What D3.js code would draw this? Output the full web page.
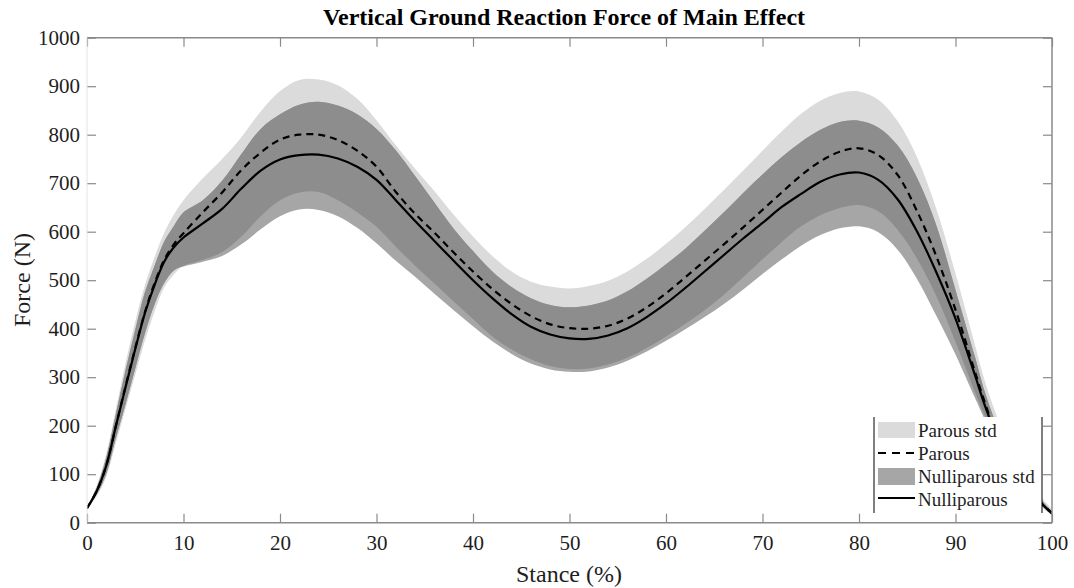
<!DOCTYPE html>
<html>
<head>
<meta charset="utf-8">
<script src="https://cdn.jsdelivr.net/npm/d3@7"></script>
<style>
  html, body { margin: 0; padding: 0; background: #fff; }
  svg { display: block; font-family: "Liberation Serif", "Times New Roman", serif; }
</style>
</head>
<body>
<svg id="chart" width="1074" height="588"></svg>
<script>
// ---- data ----
const stance = [0,1,2,3,4,5,6,7,8,9,10,
  12,14,16,18,20,22,24,26,28,30,
  32,34,36,38,40,42,44,46,48,50,
  52,54,56,58,60,62,64,66,68,70,
  72,74,76,78,80,82,84,86,88,90,
  92,93,94,95,96,97,98,99,100];

const nulliparous = [30,65,118,200,280,358,432,490,538,568,588,
  617,647,689,726,749,758,759,751,734,707,
  665,622,581,540,500,463,430,404,388,380,
  379,386,401,424,452,484,518,552,586,618,
  651,678,703,718,722,707,667,601,517,421,
  305,244,192,150,115,85,60,38,19];

const parous = [30,65,118,200,282,360,434,494,542,574,597,
  640,681,727,763,790,800,800,789,767,734,
  682,637,598,557,518,482,451,426,409,401,
  400,406,421,444,473,506,540,574,609,645,
  681,716,745,765,772,758,717,643,550,439,
  312,250,195,152,116,86,60,38,20];

const parousUpper = [32,76,142,235,330,415,490,548,598,635,665,
  710,750,795,848,890,913,914,902,874,830,
  778,730,684,635,590,550,518,497,487,483,
  488,499,518,544,575,609,647,686,726,767,
  807,843,870,886,889,872,828,754,648,514,
  368,295,235,185,140,105,75,50,28];

const parousLower = [28,54,95,165,235,305,375,435,485,512,530,
  542,558,590,632,665,681,682,665,640,610,
  569,530,493,456,420,384,357,337,323,317,
  318,326,340,360,384,410,438,470,506,543,
  579,611,634,649,655,642,604,545,468,373,
  270,222,175,140,110,82,58,36,18];

const nulliUpper = [31,72,135,225,315,398,475,530,580,612,640,
  665,705,760,812,842,862,868,860,842,812,
  768,715,660,606,560,518,486,463,449,444,
  448,458,477,503,533,565,602,640,680,718,
  754,785,810,826,829,815,778,712,614,480,
  343,272,215,170,130,97,68,44,23];

const nulliLower = [29,58,101,175,245,318,390,450,494,520,528,
  538,550,574,605,632,646,645,632,608,576,
  540,507,472,438,405,374,348,328,316,311,
  312,320,334,353,375,399,424,451,481,513,
  543,571,593,607,611,599,563,503,427,347,
  258,214,170,131,100,73,52,32,15];

const xTicks = [0,10,20,30,40,50,60,70,80,90,100];
const yTicks = [0,100,200,300,400,500,600,700,800,900,1000];

const legendLabels = ["Parous std","Parous","Nulliparous std","Nulliparous"];

// ---- drawing ----
const svg = d3.select("#chart");
const L = 87, R = 1052, T = 37.7, B = 522.7;
const x = d3.scaleLinear().domain([0,100]).range([L,R]);
const y = d3.scaleLinear().domain([0,1000]).range([B,T]);

const cLight = "#dbdbdb", cMed = "#a6a6a6", cDark = "#8d8d8d", cAxis = "#8a8a8a", cText = "#1e1e1e";

svg.append("defs").append("clipPath").attr("id","plotclip")
  .append("rect").attr("x",L).attr("y",T).attr("width",R-L).attr("height",B-T);

const rows = stance.map((s,i)=>({s, pu:parousUpper[i], pl:parousLower[i], nu:nulliUpper[i], nl:nulliLower[i], p:parous[i], n:nulliparous[i]}));

const g = svg.append("g").attr("clip-path","url(#plotclip)");
const curve = d3.curveCatmullRom.alpha(0.5);

g.append("path").datum(rows)
  .attr("d", d3.area().curve(curve).x(d=>x(d.s)).y0(d=>y(d.pl)).y1(d=>y(d.pu)))
  .attr("fill", cLight);
g.append("path").datum(rows)
  .attr("d", d3.area().curve(curve).x(d=>x(d.s)).y0(d=>y(d.nl)).y1(d=>y(d.nu)))
  .attr("fill", cMed);
g.append("path").datum(rows)
  .attr("d", d3.area().curve(curve).x(d=>x(d.s))
      .y0(d=>y(Math.max(d.pl,d.nl))).y1(d=>y(Math.min(d.pu,d.nu))))
  .attr("fill", cDark);

g.append("path").datum(rows)
  .attr("d", d3.line().curve(curve).x(d=>x(d.s)).y(d=>y(d.p)))
  .attr("fill","none").attr("stroke","#000").attr("stroke-width",2.2)
  .attr("stroke-dasharray","7,5");
g.append("path").datum(rows)
  .attr("d", d3.line().curve(curve).x(d=>x(d.s)).y(d=>y(d.n)))
  .attr("fill","none").attr("stroke","#000").attr("stroke-width",2.2);

// axes (inward ticks, box)
function styleAxis(sel){
  sel.select(".domain").remove();
  sel.selectAll(".tick line").attr("stroke", cAxis).attr("stroke-width",1.2);
  sel.selectAll(".tick text").attr("fill", cText).style("font-size","21px")
    .style("font-family","'Liberation Serif','Times New Roman',serif");
}
svg.append("g").attr("transform",`translate(0,${B})`)
  .call(d3.axisBottom(x).tickValues(xTicks).tickSize(-9).tickPadding(12).tickFormat(d3.format("d")))
  .call(styleAxis);
svg.append("g").attr("transform",`translate(0,${T})`)
  .call(d3.axisTop(x).tickValues(xTicks).tickSize(-9).tickFormat(""))
  .call(styleAxis);
svg.append("g").attr("transform",`translate(${L},0)`)
  .call(d3.axisLeft(y).tickValues(yTicks).tickSize(-9).tickPadding(7).tickFormat(d3.format("d")))
  .call(styleAxis);
svg.append("g").attr("transform",`translate(${R},0)`)
  .call(d3.axisRight(y).tickValues(yTicks).tickSize(-9).tickFormat(""))
  .call(styleAxis);

// box lines
svg.append("line").attr("x1",L).attr("x2",R).attr("y1",B).attr("y2",B).attr("stroke",cAxis).attr("stroke-width",1.5);
svg.append("line").attr("x1",L).attr("x2",R).attr("y1",T).attr("y2",T).attr("stroke",cAxis).attr("stroke-width",1.5);
svg.append("line").attr("x1",R).attr("x2",R).attr("y1",T).attr("y2",B).attr("stroke",cAxis).attr("stroke-width",1.5);
svg.append("line").attr("x1",L).attr("x2",L).attr("y1",T).attr("y2",B).attr("stroke","#e4e4e4").attr("stroke-width",1);

// legend
const lg = svg.append("g");
lg.append("rect").attr("x",874).attr("y",417).attr("width",168).attr("height",96).attr("fill","#fff");
lg.append("line").attr("x1",874).attr("x2",874).attr("y1",417).attr("y2",513).attr("stroke","#000").attr("stroke-width",1);
lg.append("line").attr("x1",1042).attr("x2",1042).attr("y1",417).attr("y2",513).attr("stroke","#000").attr("stroke-width",1);
const baselines = [437,460,483,506];
lg.append("rect").attr("x",878).attr("y",422).attr("width",37).attr("height",16).attr("fill",cLight);
lg.append("line").attr("x1",878).attr("x2",915).attr("y1",453).attr("y2",453)
  .attr("stroke","#000").attr("stroke-width",2.2).attr("stroke-dasharray","8,6");
lg.append("rect").attr("x",878).attr("y",468).attr("width",37).attr("height",17).attr("fill",cMed);
lg.append("line").attr("x1",878).attr("x2",915).attr("y1",498).attr("y2",498)
  .attr("stroke","#000").attr("stroke-width",2.2);
legendLabels.forEach((t,i)=>{
  lg.append("text").attr("x",918).attr("y",baselines[i]).attr("fill",cText)
    .style("font-size","19px").text(t);
});

// titles
svg.append("text").attr("x",564).attr("y",25).attr("text-anchor","middle")
  .attr("fill","#000").style("font-size","24px").style("font-weight","bold")
  .text("Vertical Ground Reaction Force of Main Effect");
svg.append("text").attr("x",569).attr("y",582).attr("text-anchor","middle")
  .attr("fill",cText).style("font-size","24px").text("Stance (%)");
svg.append("text").attr("transform","translate(30,280) rotate(-90)").attr("text-anchor","middle")
  .attr("fill",cText).style("font-size","24px").text("Force (N)");
</script>
</body>
</html>
